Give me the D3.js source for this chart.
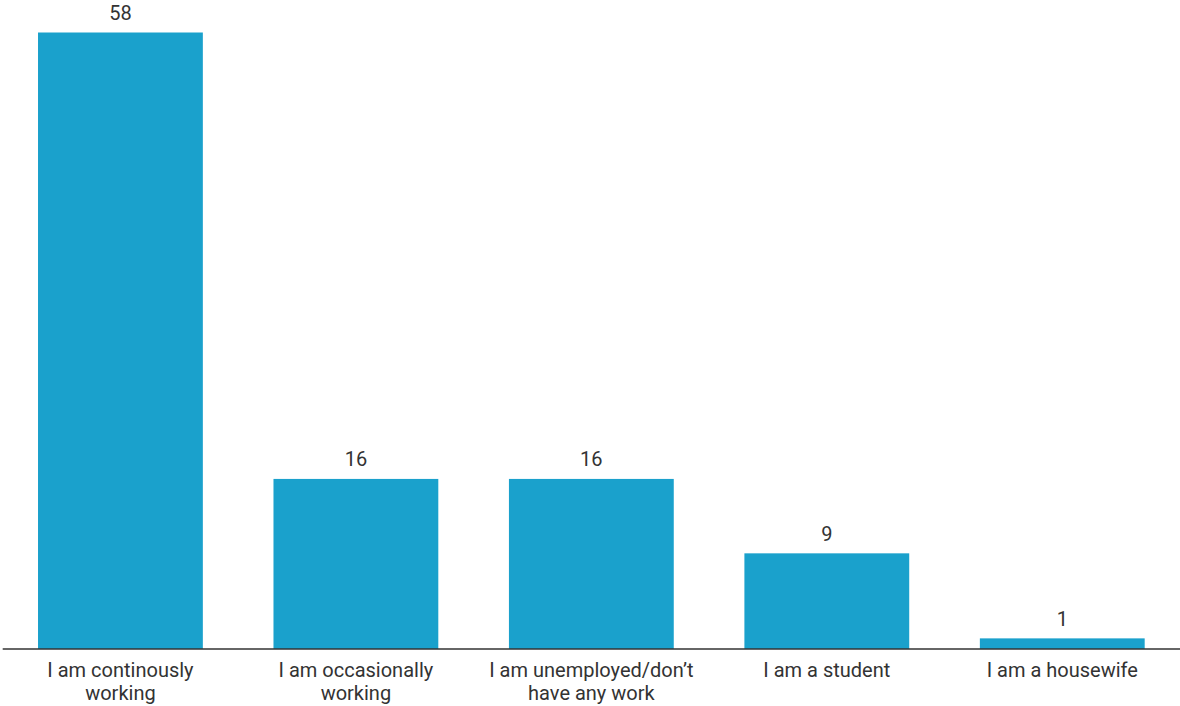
<!DOCTYPE html>
<html><head><meta charset="utf-8">
<script src="https://cdn.jsdelivr.net/npm/d3@7"></script>
<style>html,body{margin:0;padding:0;background:#fff;}svg{display:block;}</style>
</head><body>
<svg id="c" width="1180" height="706"></svg>
<script>
const categories = ["I am continously\nworking", "I am occasionally\nworking", "I am unemployed/don’t\nhave any work", "I am a student", "I am a housewife"];
const values = [58, 16, 16, 9, 1];

const W = 1180, H = 706;
const svg = d3.select("#c");
const x = d3.scaleBand().domain(categories).range([2.7, 1180]).paddingInner(0.3).paddingOuter(0.15);
const y = d3.scaleLinear().domain([0, 58]).range([649, 32.5]);

svg.selectAll("rect.bar").data(values).join("rect")
  .attr("class", "bar")
  .attr("x", (d, i) => x(categories[i]))
  .attr("width", x.bandwidth())
  .attr("y", d => y(d))
  .attr("height", d => y(0) - y(d))
  .attr("fill", "#1aa1cc");

svg.selectAll("text.val").data(values).join("text")
  .attr("class", "val")
  .attr("x", (d, i) => x(categories[i]) + x.bandwidth() / 2)
  .attr("y", d => y(d) - 12.5)
  .attr("text-anchor", "middle")
  .attr("font-family", "Roboto, sans-serif")
  .attr("font-size", 20)
  .attr("fill", "#333")
  .text(d => d);

const axis = d3.axisBottom(x).tickSize(0).tickPadding(0);
const g = svg.append("g").attr("transform", `translate(0,${y(0)})`).call(axis);
g.select(".domain").attr("stroke", "#333").attr("stroke-width", 1.5).attr("d", "M2.7,0H1180");
g.selectAll(".tick text").remove();
g.selectAll(".tick").each(function(d) {
  const t = d3.select(this).append("text")
    .attr("text-anchor", "middle")
    .attr("font-family", "Roboto, sans-serif")
    .attr("font-size", 20)
    .attr("fill", "#333");
  d.split("\n").forEach((line, i) => {
    t.append("tspan").attr("x", 0).attr("y", 27.5 + i * 23).text(line);
  });
});
</script>
</body></html>
